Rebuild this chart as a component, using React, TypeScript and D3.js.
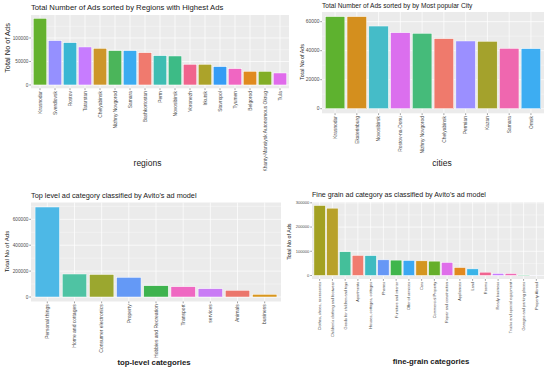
import React from "react";
import * as d3 from "d3";

// ---- data ----
const regionNames = [
  "Krasnodar", "Sverdlovsk", "Rostov", "Tatarstan", "Chelyabinsk", "Nizhny Novgorod",
  "Samara", "Bashkortostan", "Perm", "Novosibirsk", "Voronezh", "Irkutsk", "Stavropol",
  "Tyumen", "Belgorod", "Khanty-Mansiysk Autonomous Okrug", "Tula",
];
const regionAds = [
  141800, 94300, 90000, 80900, 78000, 73000, 73000, 68700, 62300, 61700, 44000,
  44000, 39000, 34700, 29100, 29000, 25500,
];
const regionTicks = [0, 50000, 100000];

const cityNames = [
  "Krasnodar", "Ekaterinburg", "Novosibirsk", "Rostov-na-Donu", "Nizhny Novgorod",
  "Chelyabinsk", "Permian", "Kazan", "Samara", "Omsk",
];
const cityAds = [63500, 63500, 57000, 52400, 52000, 48300, 46700, 46500, 41600, 41400];
const cityTicks = [0, 20000, 40000, 60000];

const topNames = [
  "Personal things", "Home and cottages", "Consumer electronics", "Property",
  "Hobbies and Recreation", "Transport", "services", "Animals", "business",
];
const topAds = [695000, 177600, 174000, 152000, 87000, 79500, 64000, 51700, 20800];
const topTicks = [0, 200000, 400000, 600000];

const fineNames = [
  "Clothes, shoes, accessories", "Children's clothing and footwear",
  "Goods for children and toys", "Apartments", "Houses, cottages, cottages", "Phones",
  "Furniture and interior", "Offer of services", "Cars", "Commercial Property",
  "Repair and construction", "Appliances", "Land", "Rooms", "Ready business",
  "Trucks and special equipment", "Garages and parking places", "Property Abroad",
];
const fineAds = [
  289000, 278000, 98000, 83000, 82000, 64700, 63500, 62000, 60600, 59300, 54000,
  33000, 27400, 13700, 8300, 8000, 2000, 400,
];
const fineTicks = [0, 100000, 200000, 300000];

// ---- colours ----
const regionColors = [
  "#64b22e", "#9590ff", "#39b6d3", "#c77cff", "#cd962a", "#4bb55a", "#3aabf0",
  "#f07a6e", "#3ebdb2", "#3dbb86", "#f0648d", "#aca32a", "#359cf5", "#f066c2",
  "#e08a1e", "#82ae26", "#e06beb",
];
const cityColors = [
  "#5eb22f", "#d48f1e", "#45bcc8", "#db6fee", "#45bb7a", "#ef7a6c", "#9b8fff",
  "#a4a22c", "#ef67af", "#3dadf2",
];
const topColors = [
  "#4db8e6", "#4fc3a3", "#9ba72f", "#6499f6", "#3eb34e", "#ef68c2", "#c97bf5",
  "#eb766c", "#d8961e",
];
const fineColors = [
  "#a3a122", "#b8a12a", "#44bf9a", "#f07c6f", "#3ebbc1", "#6697f6", "#40b64c",
  "#3ba8f2", "#d4961f", "#66af2b", "#df6eea", "#e2891e", "#3ab4e8", "#f0638f",
  "#c77cff", "#f06bb5", "#3fc07a", "#9590ff",
];

const FONT = "'Liberation Sans', Arial, sans-serif";

type PanelProps = {
  names: string[];
  values: number[];
  colors: string[];
  ticks: number[];
  box: [number, number, number, number]; // x0, x1, y0, y1
  title: string;
  titlePos: [number, number, number];
  xTitle: string;
  xTitlePos: [number, number, number];
  xTitleBold?: boolean;
  yTitlePos: [number, number, number];
  tickSize: number;
  labelSize: number;
};

const Panel = (p: PanelProps) => {
  const [x0, x1, y0, y1] = p.box;
  const max = d3.max(p.values) as number;
  const x = d3.scalePoint<string>().domain(p.names).range([x0, x1]).padding(0.6);
  const y = d3.scaleLinear().domain([-0.05 * max, 1.05 * max]).range([y1, y0]);
  const bw = x.step() * 0.9;
  const [lo, hi] = y.domain();
  const step = p.ticks[1] - p.ticks[0];
  // ggplot-style minor grid: midpoints between (and just beyond) the major breaks
  const minor = [p.ticks[0] - step / 2, ...p.ticks.map((t) => t + step / 2)].filter(
    (t) => t >= lo && t <= hi
  );
  const fmt = d3.format("d");

  return (
    <g fontFamily={FONT}>
      <rect x={x0} y={y0} width={x1 - x0} height={y1 - y0} fill="#ebebeb" />
      {minor.map((t) => (
        <line key={"m" + t} x1={x0} x2={x1} y1={y(t)} y2={y(t)} stroke="#fff" strokeWidth={0.35} />
      ))}
      {p.ticks.map((t) => (
        <line key={"g" + t} x1={x0} x2={x1} y1={y(t)} y2={y(t)} stroke="#fff" strokeWidth={0.7} />
      ))}
      {p.names.map((n) => (
        <line key={"v" + n} x1={x(n)} x2={x(n)} y1={y0} y2={y1} stroke="#fff" strokeWidth={0.7} />
      ))}
      {p.names.map((n, i) => (
        <rect
          key={"b" + n}
          x={(x(n) as number) - bw / 2}
          y={y(p.values[i])}
          width={bw}
          height={y(0) - y(p.values[i])}
          fill={p.colors[i]}
          stroke="#fff"
          strokeWidth={0.5}
        />
      ))}
      {p.ticks.map((t) => (
        <g key={"yt" + t}>
          <line x1={x0 - 1.8} x2={x0} y1={y(t)} y2={y(t)} stroke="#444" strokeWidth={0.5} />
          <text x={x0 - 2.6} y={y(t)} dy="0.35em" textAnchor="end" fontSize={p.tickSize} fill="#4d4d4d">
            {fmt(t)}
          </text>
        </g>
      ))}
      {p.names.map((n) => (
        <g key={"xt" + n}>
          <line x1={x(n)} x2={x(n)} y1={y1} y2={y1 + 1.8} stroke="#444" strokeWidth={0.5} />
          <text
            transform={`translate(${x(n)},${y1 + 2.8}) rotate(-90)`}
            dy="0.35em"
            textAnchor="end"
            fontSize={p.labelSize}
            fill="#4d4d4d"
          >
            {n}
          </text>
        </g>
      ))}
      <text x={p.titlePos[0]} y={p.titlePos[1]} fontSize={p.titlePos[2]} fill="#1a1a1a">
        {p.title}
      </text>
      <text
        x={p.xTitlePos[0]}
        y={p.xTitlePos[1]}
        fontSize={p.xTitlePos[2]}
        textAnchor="middle"
        fontWeight={p.xTitleBold ? "bold" : "normal"}
        fill="#1a1a1a"
      >
        {p.xTitle}
      </text>
      <text
        transform={`translate(${p.yTitlePos[0]},${p.yTitlePos[1]}) rotate(-90)`}
        dy="0.35em"
        textAnchor="middle"
        fontSize={p.yTitlePos[2]}
        fill="#1a1a1a"
      >
        Total No of Ads
      </text>
    </g>
  );
};

export default function App() {
  return (
    <svg
      width={550}
      height={370}
      style={{ position: "absolute", left: 0, top: 0, background: "#fff" }}
    >
      <Panel
        names={regionNames}
        values={regionAds}
        colors={regionColors}
        ticks={regionTicks}
        box={[31, 289, 15, 88.3]}
        title="Total Number of Ads sorted by Regions with Highest Ads"
        titlePos={[31, 10, 7.7]}
        xTitle="regions"
        xTitlePos={[147.5, 166, 8.5]}
        yTitlePos={[7, 48, 7.4]}
        tickSize={4.7}
        labelSize={4.9}
      />
      <Panel
        names={cityNames}
        values={cityAds}
        colors={cityColors}
        ticks={cityTicks}
        box={[322, 544, 12, 113.3]}
        title="Total Number of Ads sorted by by Most popular City"
        titlePos={[322, 7.5, 6.6]}
        xTitle="cities"
        xTitlePos={[442, 166, 8.5]}
        yTitlePos={[302.5, 62, 5.3]}
        tickSize={4.9}
        labelSize={4.9}
      />
      <Panel
        names={topNames}
        values={topAds}
        colors={topColors}
        ticks={topTicks}
        box={[31, 281, 202.5, 301.5]}
        title="Top level ad category  classified by Avito's ad model"
        titlePos={[31, 197.5, 7.3]}
        xTitle="top-level categories"
        xTitlePos={[154, 365, 7.8]}
        xTitleBold
        yTitlePos={[7, 251.5, 6.2]}
        tickSize={4.7}
        labelSize={5}
      />
      <Panel
        names={fineNames}
        values={fineAds}
        colors={fineColors}
        ticks={fineTicks}
        box={[312, 544, 202, 279]}
        title="Fine grain ad category as classified by Avito's ad model"
        titlePos={[312, 197, 7.1]}
        xTitle="fine-grain categories"
        xTitlePos={[431, 364, 7.8]}
        xTitleBold
        yTitlePos={[289, 241.7, 5.4]}
        tickSize={4.1}
        labelSize={3.9}
      />
    </svg>
  );
}
